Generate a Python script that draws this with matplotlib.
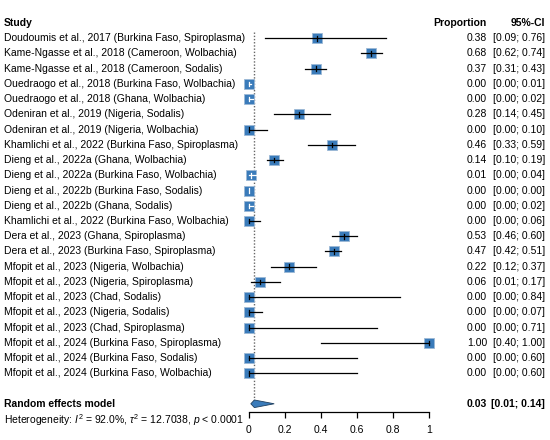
import numpy as np
import matplotlib
matplotlib.use('Agg')
import matplotlib.pyplot as plt
import matplotlib.transforms as mtransforms

plt.rcParams['font.family'] = ['Liberation Sans', 'DejaVu Sans']
plt.rcParams['mathtext.fontset'] = 'custom'
plt.rcParams['mathtext.rm'] = 'Liberation Sans'
plt.rcParams['mathtext.it'] = 'Liberation Sans:italic'

studies = [
    "Doudoumis et al., 2017 (Burkina Faso, Spiroplasma)",
    "Kame-Ngasse et al., 2018 (Cameroon, Wolbachia)",
    "Kame-Ngasse et al., 2018 (Cameroon, Sodalis)",
    "Ouedraogo et al., 2018 (Burkina Faso, Wolbachia)",
    "Ouedraogo et al., 2018 (Ghana, Wolbachia)",
    "Odeniran et al., 2019 (Nigeria, Sodalis)",
    "Odeniran et al., 2019 (Nigeria, Wolbachia)",
    "Khamlichi et al., 2022 (Burkina Faso, Spiroplasma)",
    "Dieng et al., 2022a (Ghana, Wolbachia)",
    "Dieng et al., 2022a (Burkina Faso, Wolbachia)",
    "Dieng et al., 2022b (Burkina Faso, Sodalis)",
    "Dieng et al., 2022b (Ghana, Sodalis)",
    "Khamlichi et al., 2022 (Burkina Faso, Wolbachia)",
    "Dera et al., 2023 (Ghana, Spiroplasma)",
    "Dera et al., 2023 (Burkina Faso, Spiroplasma)",
    "Mfopit et al., 2023 (Nigeria, Wolbachia)",
    "Mfopit et al., 2023 (Nigeria, Spiroplasma)",
    "Mfopit et al., 2023 (Chad, Sodalis)",
    "Mfopit et al., 2023 (Nigeria, Sodalis)",
    "Mfopit et al., 2023 (Chad, Spiroplasma)",
    "Mfopit et al., 2024 (Burkina Faso, Spiroplasma)",
    "Mfopit et al., 2024 (Burkina Faso, Sodalis)",
    "Mfopit et al., 2024 (Burkina Faso, Wolbachia)",
]
est = [0.38, 0.68, 0.37, 0.00, 0.00, 0.28, 0.00, 0.46, 0.14, 0.01, 0.00, 0.00,
       0.00, 0.53, 0.47, 0.22, 0.06, 0.00, 0.00, 0.00, 1.00, 0.00, 0.00]
lo = [0.09, 0.62, 0.31, 0.00, 0.00, 0.14, 0.00, 0.33, 0.10, 0.00, 0.00, 0.00,
      0.00, 0.46, 0.42, 0.12, 0.01, 0.00, 0.00, 0.00, 0.40, 0.00, 0.00]
hi = [0.76, 0.74, 0.43, 0.01, 0.02, 0.45, 0.10, 0.59, 0.19, 0.04, 0.00, 0.02,
      0.06, 0.60, 0.51, 0.37, 0.17, 0.84, 0.07, 0.71, 1.00, 0.60, 0.60]

re_est, re_lo, re_hi = 0.03, 0.01, 0.14
xticks = [0, 0.2, 0.4, 0.6, 0.8, 1]
xticklabels = ["0", "0.2", "0.4", "0.6", "0.8", "1"]

W, H = 550, 440
fig = plt.figure(figsize=(5.5, 4.4), dpi=100)
ax = fig.add_axes([249 / W, 1 - 411.7 / H, 180 / W, (411.7 - 25) / H])
ax.set_xlim(0, 1)
ax.set_ylim(25.52, 0.13)

blue = '#3A7BBA'
fs = 7.5
rows = np.arange(1, len(studies) + 1)

# dotted line at pooled estimate
ax.plot([re_est, re_est], [0.6, 24.9], color='#666666', lw=1, ls=(0, (1, 1.3)),
        clip_on=False, zorder=1)

for r, e, l, h in zip(rows, est, lo, hi):
    ax.plot(e, r, marker='s', ms=7.6, mfc=blue, mec='#9DB9D6', mew=0.6,
            clip_on=False, zorder=2)
    inside = (h - e) <= 0.031 and (e - l) <= 0.031
    c = 'white' if inside else 'black'
    ax.plot([l, h], [r, r], color=c, lw=0.9, clip_on=False, zorder=3)
    ax.plot([e, e], [r - 0.15, r + 0.15], color=c, lw=0.9, clip_on=False, zorder=3)

# diamond for random effects model
ymod = 25.0
ax.fill([re_lo, re_est, re_hi, re_est], [ymod, ymod - 0.25, ymod, ymod + 0.25],
        facecolor=blue, edgecolor='#1f3f5f', lw=0.6, clip_on=False, zorder=3)

for s in ['top', 'right', 'left']:
    ax.spines[s].set_visible(False)
ax.spines['bottom'].set_linewidth(0.9)
ax.set_yticks([])
ax.set_xticks(xticks)
ax.set_xticklabels(xticklabels, fontsize=fs)
ax.tick_params(axis='x', direction='out', length=4, width=0.9, pad=5.5, colors='black')

# text columns: x in figure pixels, y in data rows
trans = mtransforms.blended_transform_factory(
    mtransforms.Affine2D().scale(1 / W, 1) + fig.transFigure, ax.transData)

ax.text(4, 0, "Study", transform=trans, fontsize=fs, fontweight='bold',
        ha='left', va='center')
ax.text(487, 0, "Proportion", transform=trans, fontsize=fs, fontweight='bold',
        ha='right', va='center')
ax.text(545, 0, "95%-CI", transform=trans, fontsize=fs, fontweight='bold',
        ha='right', va='center')

for r, name, e, l, h in zip(rows, studies, est, lo, hi):
    ax.text(4, r, name, transform=trans, fontsize=fs, ha='left', va='center')
    ax.text(487, r, "%.2f" % e, transform=trans, fontsize=fs, ha='right', va='center')
    ax.text(545, r, "[%.2f; %.2f]" % (l, h), transform=trans, fontsize=fs,
            ha='right', va='center')

ax.text(4, ymod, "Random effects model", transform=trans, fontsize=fs,
        fontweight='bold', ha='left', va='center')
ax.text(487, ymod, "%.2f" % re_est, transform=trans, fontsize=fs,
        fontweight='bold', ha='right', va='center')
ax.text(545, ymod, "[%.2f; %.2f]" % (re_lo, re_hi), transform=trans, fontsize=fs,
        fontweight='bold', ha='right', va='center')
ax.text(4, 26.1, r"Heterogeneity: $I^2$ = 92.0%, $\tau^2$ = 12.7038, $p$ < 0.0001",
        transform=trans, fontsize=fs, ha='left', va='center')

fig.savefig('out.png', dpi=100)
